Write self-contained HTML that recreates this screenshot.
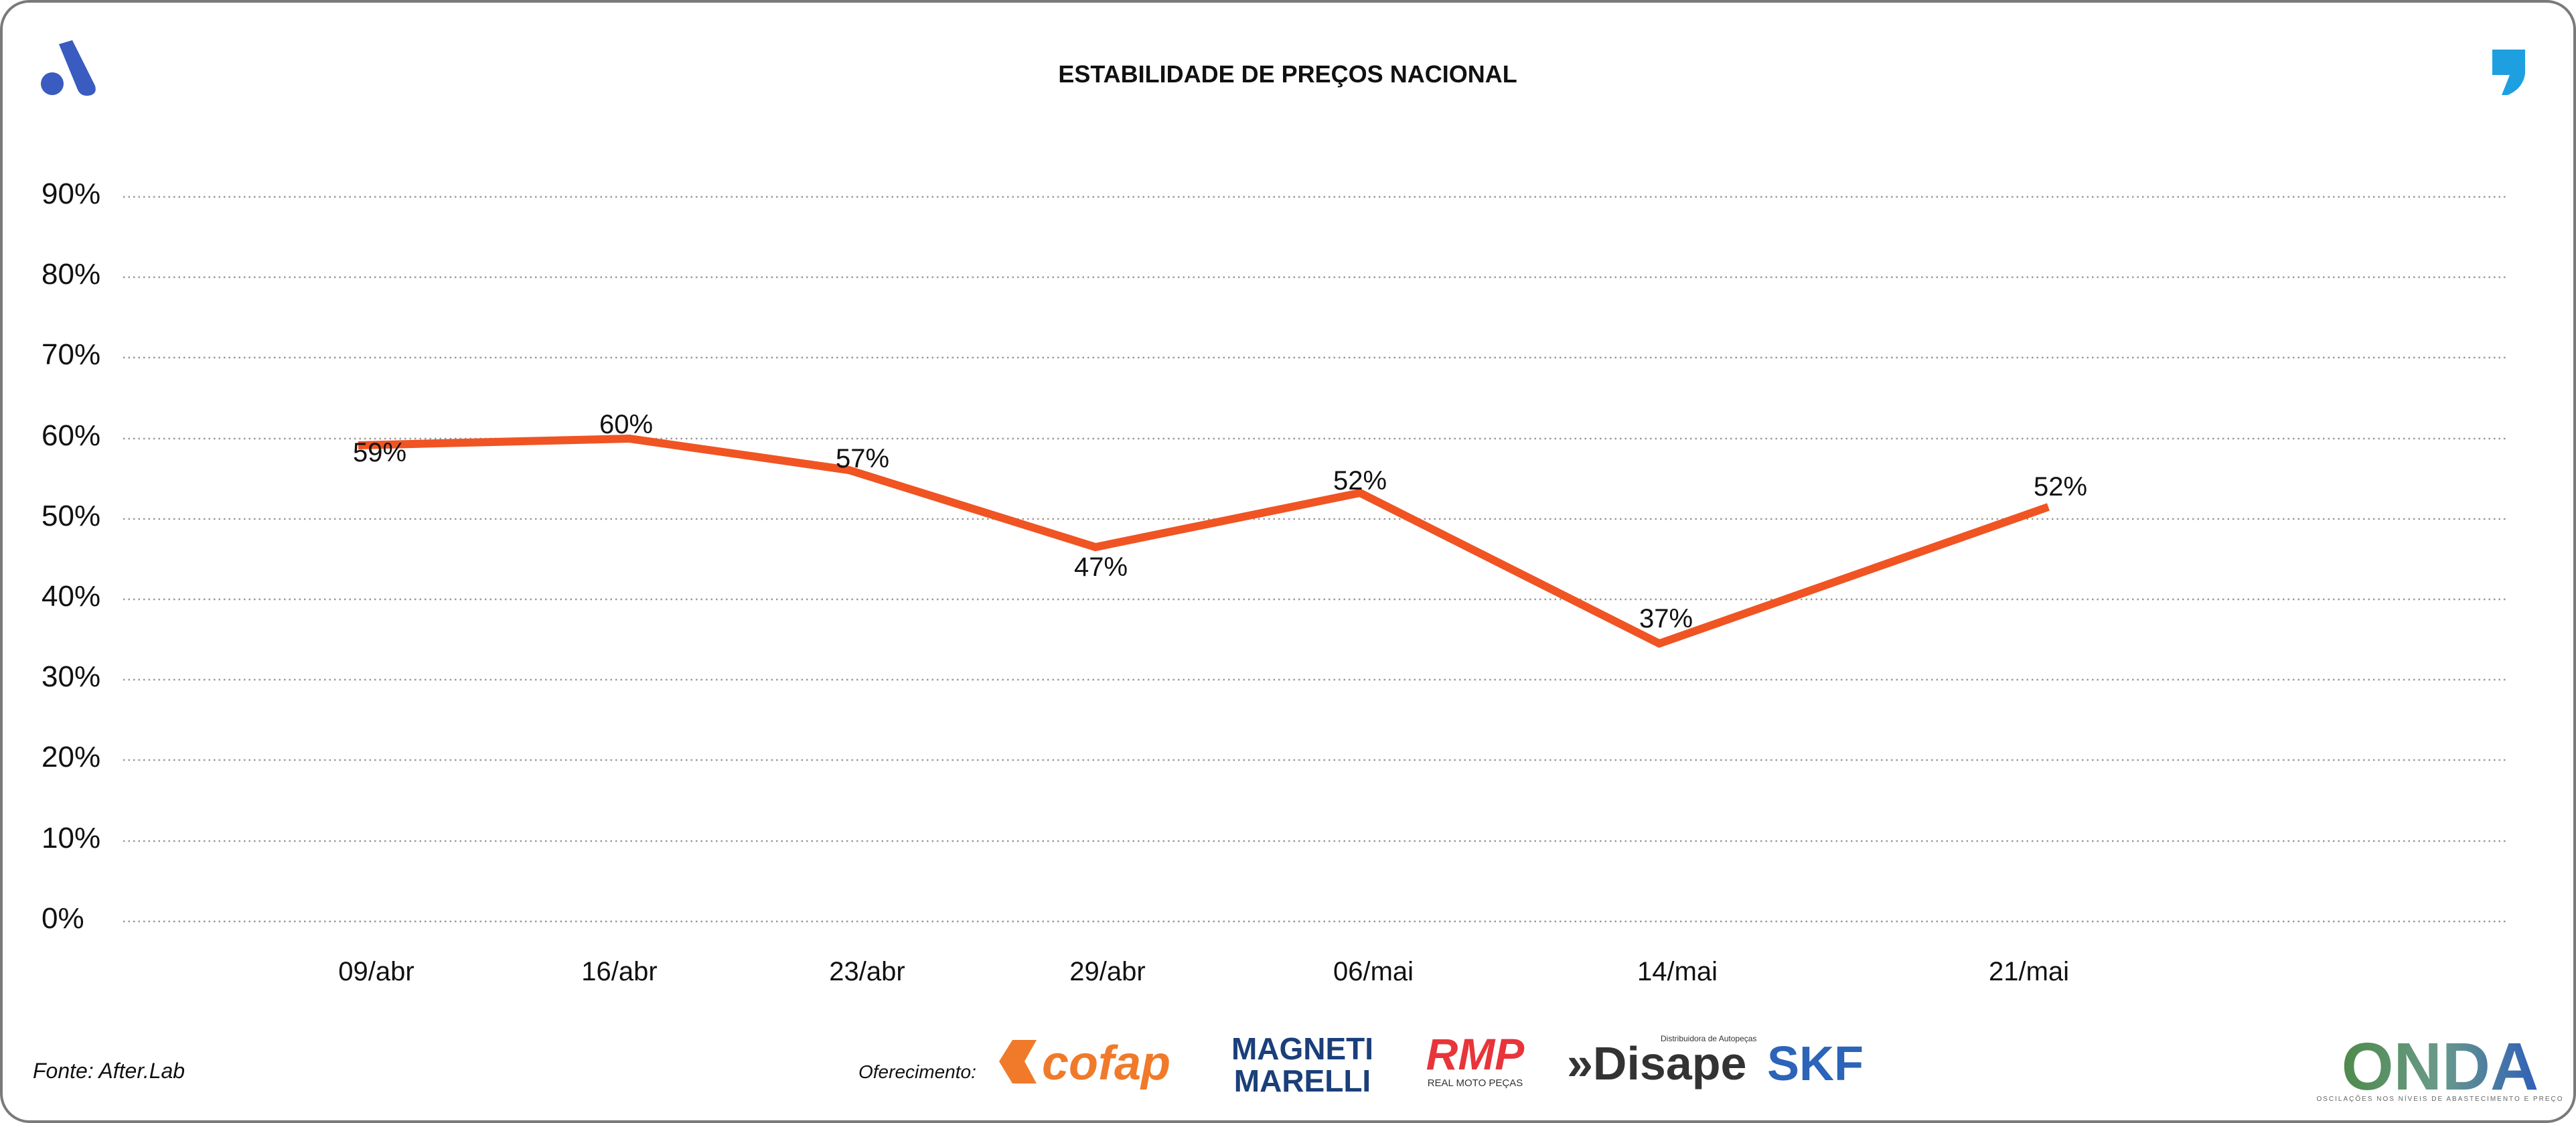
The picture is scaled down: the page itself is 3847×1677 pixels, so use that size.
<!DOCTYPE html>
<html><head><meta charset="utf-8"><style>
html,body{margin:0;padding:0;background:#fff;}
svg{display:block;}
text{font-family:"Liberation Sans Narrow","Liberation Sans",sans-serif;}
</style></head><body>
<svg width="3847" height="1677" viewBox="0 0 3847 1677" xmlns="http://www.w3.org/2000/svg">
<rect x="2" y="2" width="3843" height="1673" rx="42" fill="#fff" stroke="#7a7a7a" stroke-width="4"/>
<!-- top-left logo -->
<circle cx="78" cy="125" r="17" fill="#3a5bbf"/>
<path d="M88 66 L108 60 L142 128 Q146 142 130 143 Q120 143 116 134 Z" fill="#3a5bbf"/>
<!-- top-right comma -->
<path d="M3722 74 L3771 74 L3771 110 Q3768 132 3745 142 L3736 142 L3748 112 L3722 112 Z" fill="#1ea0e0"/>
<text x="1923" y="123" text-anchor="middle" font-size="36" font-weight="bold" fill="#111">ESTABILIDADE DE PREÇOS NACIONAL</text>
<!-- grid -->
<g stroke="#999" stroke-width="2.5" stroke-dasharray="2.5 5">
<line x1="184" x2="3746" y1="294" y2="294"/>
<line x1="184" x2="3746" y1="414" y2="414"/>
<line x1="184" x2="3746" y1="534" y2="534"/>
<line x1="184" x2="3746" y1="655" y2="655"/>
<line x1="184" x2="3746" y1="775" y2="775"/>
<line x1="184" x2="3746" y1="895" y2="895"/>
<line x1="184" x2="3746" y1="1015" y2="1015"/>
<line x1="184" x2="3746" y1="1135" y2="1135"/>
<line x1="184" x2="3746" y1="1256" y2="1256"/>
<line x1="184" x2="3746" y1="1376" y2="1376"/>
</g>
<g font-size="44" fill="#111">
<text x="62" y="304">90%</text>
<text x="62" y="424">80%</text>
<text x="62" y="544">70%</text>
<text x="62" y="665">60%</text>
<text x="62" y="785">50%</text>
<text x="62" y="905">40%</text>
<text x="62" y="1025">30%</text>
<text x="62" y="1145">20%</text>
<text x="62" y="1266">10%</text>
<text x="62" y="1386">0%</text>
</g>
<polyline points="535,665 940,655 1268,702 1636,817 2031,736 2478,961 3059,757" fill="none" stroke="#f05423" stroke-width="12" stroke-linejoin="miter"/>
<g font-size="40" fill="#111" text-anchor="middle">
<text x="567" y="689">59%</text>
<text x="935" y="647">60%</text>
<text x="1288" y="698">57%</text>
<text x="1644" y="860">47%</text>
<text x="2031" y="731">52%</text>
<text x="2488" y="937">37%</text>
<text x="3077" y="740">52%</text>
</g>
<g font-size="40" fill="#111" text-anchor="middle">
<text x="562" y="1464">09/abr</text>
<text x="925" y="1464">16/abr</text>
<text x="1295" y="1464">23/abr</text>
<text x="1654" y="1464">29/abr</text>
<text x="2051" y="1464">06/mai</text>
<text x="2505" y="1464">14/mai</text>
<text x="3030" y="1464">21/mai</text>
</g>
<text x="49" y="1610" font-size="32" font-style="italic" fill="#111">Fonte: After.Lab</text>
<text x="1282" y="1610" font-size="28" font-style="italic" fill="#111">Oferecimento:</text>
<!-- cofap -->
<path d="M1492 1585 L1512 1553 L1548 1553 L1530 1585 L1548 1618 L1512 1618 Z" fill="#f07a2a"/>
<text x="1556" y="1612" font-size="72" font-weight="bold" font-style="italic" fill="#f07a2a">cofap</text>
<!-- Magneti Marelli -->
<ellipse cx="1945" cy="1585" rx="100" ry="48" fill="#fff"/>
<text x="1945" y="1582" font-size="46" font-weight="bold" fill="#1a3f7a" text-anchor="middle">MAGNETI</text>
<text x="1945" y="1630" font-size="46" font-weight="bold" fill="#1a3f7a" text-anchor="middle">MARELLI</text>
<!-- RMP -->
<text x="2203" y="1597" font-size="66" font-weight="bold" font-style="italic" fill="#e8353a" text-anchor="middle">RMP</text>
<text x="2203" y="1622" font-size="15" fill="#333" text-anchor="middle">REAL MOTO PEÇAS</text>
<!-- Disape -->
<text x="2340" y="1612" font-size="70" font-weight="bold" fill="#333">»Disape</text>
<text x="2480" y="1555" font-size="12" fill="#333">Distribuidora de Autopeças</text>
<!-- SKF -->
<text x="2639" y="1613" font-size="72" font-weight="bold" fill="#2b64b8">SKF</text>
<!-- ONDA -->
<defs><linearGradient id="og" x1="0" x2="1" y1="0" y2="0"><stop offset="0" stop-color="#4e8a4a"/><stop offset="0.5" stop-color="#6a9a8a"/><stop offset="1" stop-color="#2f5fb8"/></linearGradient></defs>
<text x="3644" y="1627" font-size="100" font-weight="bold" fill="url(#og)" text-anchor="middle">ONDA</text>
<text x="3644" y="1644" font-size="10" fill="#666" text-anchor="middle" letter-spacing="2">OSCILAÇÕES NOS NÍVEIS DE ABASTECIMENTO E PREÇO</text>
</svg>
</body></html>
